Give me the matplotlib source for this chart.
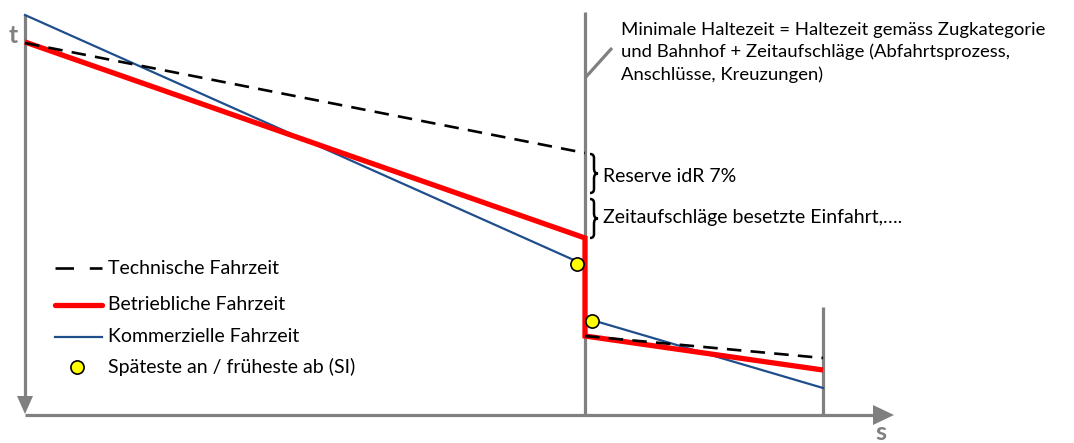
import numpy as np
import matplotlib.pyplot as plt
from matplotlib.path import Path
from matplotlib.patches import PathPatch

plt.rcParams['font.family'] = ['Lato', 'DejaVu Sans']

# data in picture units (s to the right, t downwards)
technische_s = [25, 585, np.nan, 585, 823]
technische_t = [43, 153, np.nan, 336, 358]
betriebliche_s = [25, 585, 585, 823]
betriebliche_t = [42, 238, 336, 370]
kommerzielle_s = [25, 585, 585, 823]
kommerzielle_t = [15, 265, 318, 388]
si_s = [577, 592]
si_t = [264, 321]

legend_labels = ["Technische Fahrzeit", "Betriebliche Fahrzeit",
                 "Kommerzielle Fahrzeit", "Späteste an / früheste ab (SI)"]
note_text = ("Minimale Haltezeit = Haltezeit gemäss Zugkategorie\n"
             "und Bahnhof + Zeitaufschläge (Abfahrtsprozess,\n"
             "Anschlüsse, Kreuzungen)")
brace_labels = ["Reserve idR 7%", "Zeitaufschläge besetzte Einfahrt,…."]

grey = "#808080"
red = "#ff0000"
blue = "#1f4e8c"

fig = plt.figure(figsize=(10.74, 4.43), dpi=100)
ax = fig.add_axes([0, 0, 1, 1])
ax.set_xlim(0, 1074)
ax.set_ylim(443, 0)
ax.axis("off")

# axes with arrows
ax.plot([25, 25], [15, 398], color=grey, lw=2.3, solid_capstyle="butt")
ax.plot([25, 876], [415, 415], color=grey, lw=2.3, solid_capstyle="butt")
ax.fill([17, 33, 25], [396, 396, 414], color=grey, lw=0)
ax.fill([873, 873, 894], [405, 425, 415], color=grey, lw=0)
ax.text(13, 35, "t", color=grey, fontsize=18, fontweight="bold", ha="center", va="center")
ax.text(881, 433, "s", color=grey, fontsize=18, fontweight="bold", ha="center", va="center")

# station lines
ax.plot([585, 585], [12, 415], color=grey, lw=2.3, solid_capstyle="butt")
ax.plot([823, 823], [307, 415], color=grey, lw=2.3, solid_capstyle="butt")
ax.plot([585, 612], [78, 48], color=grey, lw=2.3, solid_capstyle="butt")

# series
ax.plot(kommerzielle_s, kommerzielle_t, color=blue, lw=1.6)
ax.plot(betriebliche_s, betriebliche_t, color=red, lw=3.8,
        solid_capstyle="butt", solid_joinstyle="miter")
ax.plot(technische_s, technische_t, color="black", lw=1.9, dashes=(5.5, 3.5))
ax.plot(si_s, si_t, "o", ms=9.5, mfc="#ffff00", mec="black", mew=1.2, zorder=5)

# braces
def brace(x, y0, y1, w=8):
    ym = (y0 + y1) / 2
    verts = [(x, y0), (x + w / 2, y0), (x + w / 2, y0 + 4), (x + w / 2, ym - 5),
             (x + w / 2, ym), (x + w, ym),
             (x + w / 2, ym), (x + w / 2, ym + 5), (x + w / 2, y1 - 4),
             (x + w / 2, y1), (x, y1)]
    codes = [Path.MOVETO, Path.CURVE3, Path.CURVE3, Path.LINETO,
             Path.CURVE3, Path.CURVE3,
             Path.CURVE3, Path.CURVE3, Path.LINETO,
             Path.CURVE3, Path.CURVE3]
    ax.add_patch(PathPatch(Path(verts, codes), fc="none", ec="black", lw=1.8))

brace(590, 154, 193)
brace(590, 199, 238)
ax.text(603, 177, brace_labels[0], fontsize=14, va="center", ha="left")
ax.text(603, 217, brace_labels[1], fontsize=14, va="center", ha="left")

ax.text(621, 22, note_text, fontsize=13.3, va="top", ha="left", linespacing=1.42)

# legend
ax.plot([55, 102], [268, 268], color="black", lw=1.9, dashes=(7, 6))
ax.plot([55, 102], [305, 305], color=red, lw=3.8, solid_capstyle="round")
ax.plot([55, 102], [337, 337], color=blue, lw=1.6)
ax.plot([77], [367], "o", ms=9.5, mfc="#ffff00", mec="black", mew=1.2)
for y, lab in zip([268, 305, 337, 367], legend_labels):
    ax.text(108, y, lab, fontsize=14, va="center", ha="left")

fig.savefig("out.png", dpi=100)
